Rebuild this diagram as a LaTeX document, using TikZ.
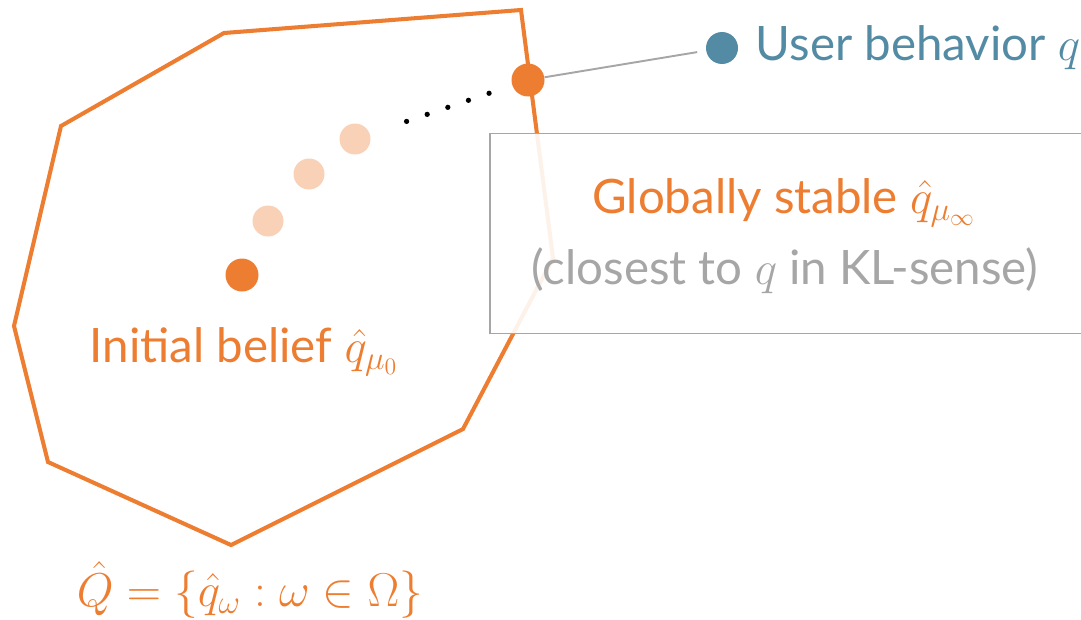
\RequirePackage{fix-cm}
\documentclass[tikz,border=0pt]{standalone}
\usepackage{fontspec}
\setmainfont{Lato}
\usetikzlibrary{positioning}

\definecolor{beliefOrange}{HTML}{ED7D31}
\definecolor{userBlue}{HTML}{548BA4}
\definecolor{noteGray}{HTML}{A6A6A6}

\tikzset{
  belief/.style={circle,fill=beliefOrange,inner sep=0pt,minimum size=0.66cm},
  fadedbelief/.style={circle,fill=beliefOrange!35,inner sep=0pt,minimum size=0.62cm},
  userdot/.style={circle,fill=userBlue,inner sep=0pt,minimum size=0.64cm},
  notebox/.style={draw=noteGray,line width=1.1pt,fill=white,fill opacity=0.9,
    minimum width=11.9cm,minimum height=4cm},
  biglabel/.style={font=\fontsize{27}{32}\selectfont,inner sep=0pt},
}

\begin{document}
\begin{tikzpicture}[x=0.02cm,y=-0.02cm]
    \clip (0,0) rectangle (1081,619);
    % the set of model predictions
    \draw[beliefOrange,line width=2.3pt] (224,33) -- (521,10) -- (553,258) -- (463,429)
      -- (231,545) -- (48,462) -- (14,326) -- (61,126) -- cycle;
    \node[biglabel,text=beliefOrange] (settxt) at (250,590)
      {$\hat{Q} = \{\hat{q}_\omega : \omega \in \Omega\}$};

    \node[notebox] (note) at (787,233.5) {};
    \node[biglabel,text=beliefOrange] (stabletxt) at (784,203) {Globally stable $\hat{q}_{\mu_\infty}$};
    \node[biglabel,text=noteGray] (closetxt) at (785,271) {(closest to $q$ in KL-sense)};

    % iterates of the belief
    \node[belief] (init) at (242,275) {};
    \node[fadedbelief] (it1) at (268,221) {};
    \node[fadedbelief] (it2) at (309,174) {};
    \node[fadedbelief] (it3) at (355,139) {};
    \node[belief] (stable) at (528,80) {};
    \draw[line width=3pt,line cap=round,dash pattern=on 0pt off 12.4pt,
      shorten <=22pt,shorten >=9pt] (it3) -- (stable);
    \node[biglabel,text=beliefOrange] (inittxt) at (244,352) {Initial belief $\hat{q}_{\mu_0}$};

    \node[userdot] (user) at (722,48) {};
    \node[biglabel,text=userBlue,right=0.34cm of user] (usertxt) {User behavior $q$};
    \draw[noteGray,line width=1.1pt,shorten >=5pt] (stable) -- (user);
\end{tikzpicture}
\end{document}
